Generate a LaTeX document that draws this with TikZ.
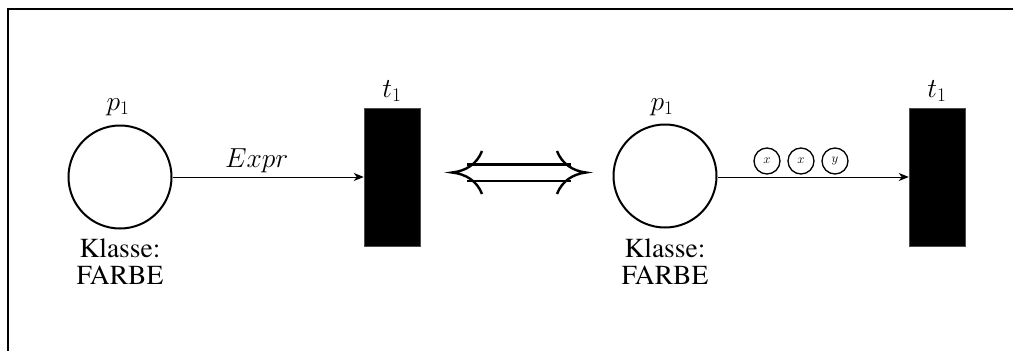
\RequirePackage{fix-cm}
\documentclass[tikz,border=0pt]{standalone}
\usepackage[T1]{fontenc}
\usepackage{times}
\usetikzlibrary{arrows.meta}
\begin{document}
\begin{tikzpicture}[x=1pt,y=-1pt,
  place/.style={circle,draw,line width=2pt,minimum size=103pt,inner sep=0pt},
  trans/.style={rectangle,fill=black,draw=black!70,line width=0.5pt,
    minimum width=56pt,minimum height=138pt,inner sep=0pt},
  token/.style={circle,draw,line width=1.3pt,minimum size=26pt,inner sep=0pt,
    font=\fontsize{13}{15}\selectfont},
  lbl/.style={font=\fontsize{27.5}{30}\selectfont,inner sep=0pt,anchor=base},
  flow/.style={-{Stealth[length=10pt,width=8pt,inset=3pt]},line width=1pt},
  frame/.style={line width=1.2pt},
  equiv/.style={line width=2.4pt}]
\useasboundingbox (0,0) rectangle (1013,351);

% outer frame
\coordinate (fc) at (8,9);
\draw[frame] (1013,9) -- (fc) -- (8,351);

% left net
\node[place] (pl) at (120,177) {};
\node[trans] (tl) at (392,177) {};
\node[lbl] (plname) at (118,110) {$p_1$};
\node[lbl] (tlname) at (392,97) {$t_1$};
\node[lbl] (plk) at (120,257) {Klasse:};
\node[lbl] (plf) at (120,284) {FARBE};
\draw[flow] (pl) -- (tl) node[lbl,pos=0.44,yshift=10pt] (expr) {$Expr$};

% equivalence arrow
\draw[equiv] (467,164.3) -- (571,164.3);
\draw[equiv] (467,180.7) -- (571,180.7);
\draw[equiv] (482,151) .. controls (477,164) and (466,171) .. (452,172.5)
  .. controls (466,174) and (477,181) .. (482,194);
\draw[equiv] (557,151) .. controls (562,164) and (573,171) .. (586,172.5)
  .. controls (573,174) and (562,181) .. (557,194);

% right net
\node[place] (pr) at (665,176) {};
\node[trans] (tr) at (937,177) {};
\node[lbl] (prname) at (662,110) {$p_1$};
\node[lbl] (trname) at (937,97) {$t_1$};
\node[lbl] (prk) at (665,257) {Klasse:};
\node[lbl] (prf) at (665,284) {FARBE};
\draw[flow] (pr.east |- tr.west) -- (tr.west);
\node[token] (k1) at (767,161) {$x$};
\node[token] (k2) at (801,161) {$x$};
\node[token] (k3) at (835,161) {$y$};
\end{tikzpicture}
\end{document}
